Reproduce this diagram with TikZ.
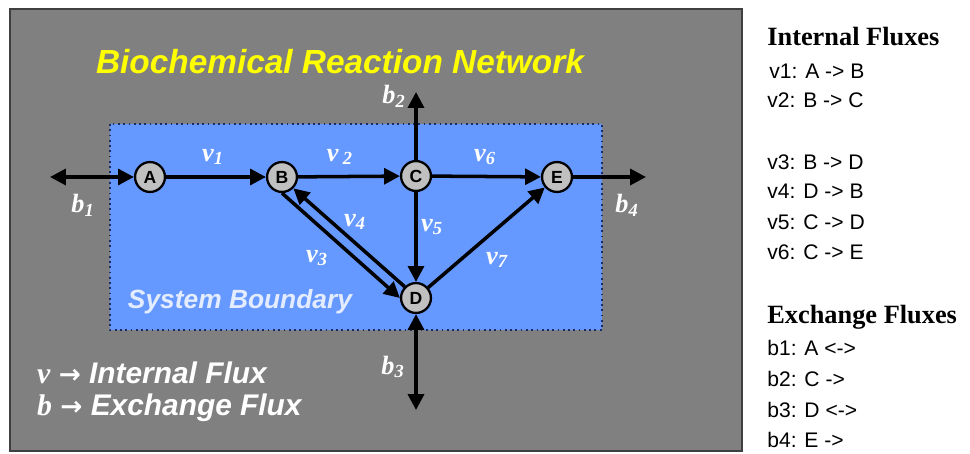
\documentclass[tikz,border=0pt]{standalone}
\usepackage{fontspec}
\setmainfont{Liberation Sans}
\newfontfamily\serifface{Liberation Serif}
\newfontfamily\symface{DejaVu Sans}
\usetikzlibrary{arrows.meta}
\definecolor{panelgray}{HTML}{808080}
\definecolor{boxblue}{HTML}{6699FF}
\definecolor{boxline}{HTML}{1A2A6A}
\definecolor{nodegray}{HTML}{C0C0C0}
\definecolor{boundtext}{HTML}{E4ECFF}
\definecolor{titleyellow}{HTML}{FFFF00}
\newcommand{\fluxlabel}[2]{{\serifface\bfseries\itshape #1\textsubscript{#2}}}

\begin{document}
\begin{tikzpicture}[x=0.02cm, y=-0.02cm,
    species/.style={circle, draw, fill=nodegray, line width=1.3pt, minimum size=17pt, inner sep=0pt, font=\bfseries\fontsize{10}{10}\selectfont},
    flux/.style={line width=2pt, -{Triangle[length=9pt,width=9pt]}},
    exflux/.style={line width=2pt, {Triangle[length=9pt,width=9pt]}-{Triangle[length=9pt,width=9pt]}},
    fluxlbl/.style={text=white, inner sep=0pt, font=\fontsize{15}{15}\selectfont},
    listhead/.style={anchor=west, inner sep=0pt, font=\serifface\bfseries\fontsize{15}{17}\selectfont},
    listline/.style={anchor=west, inner sep=0pt, font=\fontsize{12}{14}\selectfont}]

  \useasboundingbox (0,0) rectangle (970,453);
  \fill[white] (0,0) rectangle (970,453);
  \filldraw[fill=panelgray, draw=black!75, line width=0.7pt] (10,9) rectangle (742,451);
  \filldraw[fill=boxblue, draw=boxline, dotted, line width=1pt] (110,124) rectangle (602,330);

  \node[text=titleyellow, font=\bfseries\itshape\fontsize{19}{21}\selectfont] (title) at (340,62) {Biochemical Reaction Network};

  \node[species] (A) at (150,177) {A};
  \node[species] (B) at (282,177) {B};
  \node[species] (C) at (416,176) {C};
  \node[species] (E) at (557,177) {E};
  \node[species] (D) at (416,298) {D};

  \coordinate (b1end) at (50,177);
  \coordinate (b2end) at (416,92);
  \coordinate (b3end) at (416,410);
  \coordinate (b4end) at (646,177);

  \draw[flux] (A) -- (B);
  \draw[flux] (B) -- (C);
  \draw[flux] (C) -- (E);
  \draw[flux] (C) -- (D);
  \draw[flux] (D) -- (E);
  \draw[flux] (B.south) -- (D.west);
  \draw[flux] (D.north west) -- (B.south east);
  \draw[exflux] (b1end) -- (A);
  \draw[flux] (C) -- (b2end);
  \draw[exflux] (D) -- (b3end);
  \draw[flux] (E) -- (b4end);

  \node[fluxlbl] (v1) at (213,157) {\fluxlabel{v}{1}};
  \node[fluxlbl] (v2) at (340,157) {\fluxlabel{v\,}{2}};
  \node[fluxlbl] (v3) at (317,258) {\fluxlabel{v}{3}};
  \node[fluxlbl] (v4) at (355,222) {\fluxlabel{v}{4}};
  \node[fluxlbl] (v5) at (432,227) {\fluxlabel{v}{5}};
  \node[fluxlbl] (v6) at (485,157) {\fluxlabel{v}{6}};
  \node[fluxlbl] (v7) at (497,260) {\fluxlabel{v}{7}};
  \node[fluxlbl] (b1) at (83,205) {\fluxlabel{b}{1}};
  \node[fluxlbl] (b2) at (394,96) {\fluxlabel{b}{2}};
  \node[fluxlbl] (b3) at (393,367) {\fluxlabel{b}{3}};
  \node[fluxlbl] (b4) at (627,205) {\fluxlabel{b}{4}};

  \node[text=boundtext, font=\bfseries\itshape\fontsize{15}{17}\selectfont] (boundary) at (240,302) {System Boundary};

  % legend
  \node[anchor=west, text=white, font=\bfseries\itshape\fontsize{17}{19}\selectfont] (legv) at (31,373) {{\serifface v} {\symface\upshape\fontsize{15}{15}\selectfont →} Internal Flux};
  \node[anchor=west, text=white, font=\bfseries\itshape\fontsize{17}{19}\selectfont] (legb) at (31,408) {{\serifface b} {\symface\upshape\fontsize{15}{15}\selectfont →} Exchange Flux};

  % flux lists
  \node[listhead] (inthead) at (767,37) {Internal Fluxes};
  \node[listline] (l1) at (769,71) {v1: A -> B};
  \node[listline] (l2) at (767,100) {v2: B -> C};
  \node[listline] (l3) at (767,162) {v3: B -> D};
  \node[listline] (l4) at (767,191) {v4: D -> B};
  \node[listline] (l5) at (767,222) {v5: C -> D};
  \node[listline] (l6) at (767,252) {v6: C -> E};
  \node[listhead] (exhead) at (767,317) {Exchange Fluxes};
  \node[listline] (e1) at (767,348) {b1: A <->};
  \node[listline] (e2) at (767,379) {b2: C ->};
  \node[listline] (e3) at (767,410) {b3: D <->};
  \node[listline] (e4) at (767,440) {b4: E ->};
\end{tikzpicture}
\end{document}
